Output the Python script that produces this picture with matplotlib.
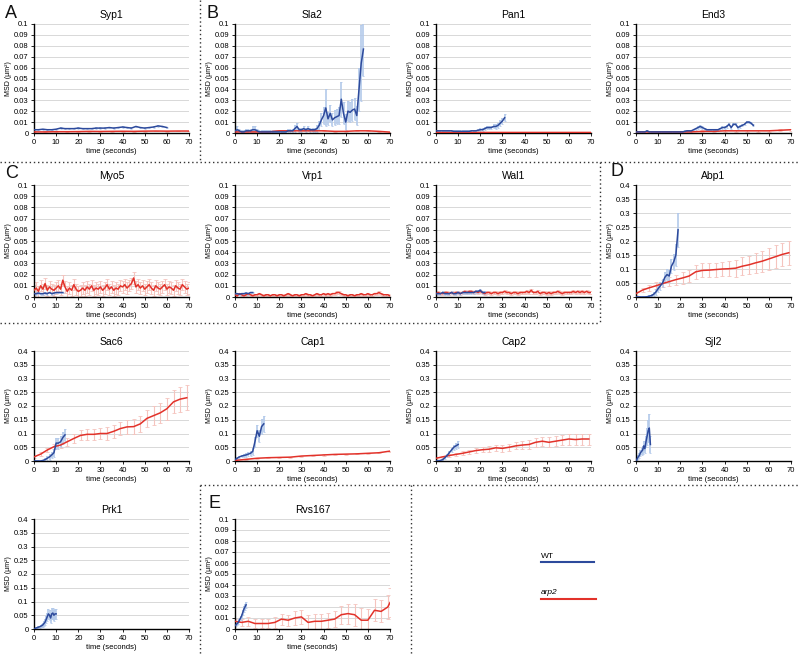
import numpy as np
import matplotlib
matplotlib.use("Agg")
import matplotlib.pyplot as plt
from matplotlib.lines import Line2D
from matplotlib.ticker import FormatStrFormatter

plt.rcParams['font.family'] = ['Liberation Sans', 'DejaVu Sans']

BLUE = "#2d4a9c"
RED = "#e2322a"
LBLUE = "#b3c9ea"
LRED = "#f5c4be"

# ---- data (MSD in um^2, time in seconds) ----
syp1_wt_t = np.arange(0, 61, 2)
syp1_wt_y = [0.003, 0.003, 0.0035, 0.003, 0.003, 0.0035, 0.0045, 0.004, 0.004, 0.004, 0.0045,
             0.004, 0.004, 0.004, 0.0045, 0.0045, 0.0045, 0.005, 0.0045, 0.005, 0.0055, 0.005,
             0.0045, 0.006, 0.005, 0.0045, 0.005, 0.0055, 0.0065, 0.006, 0.005]
syp1_wt_e = 0.0006
syp1_mut_t = np.arange(0, 71, 5)
syp1_mut_y = [0.001, 0.001, 0.0012, 0.0012, 0.0013, 0.0015, 0.0014, 0.0015, 0.0016, 0.0015,
              0.0017, 0.0018, 0.0017, 0.0018, 0.0018]
syp1_mut_e = 0.0004

sla2_wt_y = [0.002, 0.003, 0.002, 0.001, 0.001, 0.002, 0.002, 0.002, 0.003, 0.003,
             0.002, 0.001, 0.001, 0.001, 0.001, 0.001, 0.001, 0.001, 0.001, 0.001,
             0.001, 0.001, 0.001, 0.001, 0.002, 0.002, 0.002, 0.004, 0.006, 0.003,
             0.003, 0.004, 0.003, 0.004, 0.003, 0.003, 0.003, 0.004, 0.007, 0.012,
             0.016, 0.023, 0.013, 0.018, 0.012, 0.014, 0.015, 0.016, 0.031, 0.018,
             0.010, 0.020, 0.019, 0.021, 0.022, 0.016, 0.040, 0.064, 0.077]
sla2_wt_e = [0.003, 0.003, 0.0015, 0.0015, 0.0015, 0.0015, 0.0015, 0.002, 0.003, 0.003,
             0.0015, 0.0015, 0.0015, 0.0015, 0.0015, 0.0015, 0.0015, 0.0015, 0.0015, 0.0015,
             0.0015, 0.0015, 0.0015, 0.0015, 0.0015, 0.0015, 0.002, 0.003, 0.003, 0.002,
             0.002, 0.002, 0.002, 0.002, 0.002, 0.002, 0.002, 0.003, 0.004, 0.006,
             0.008, 0.017, 0.006, 0.008, 0.006, 0.007, 0.007, 0.008, 0.016, 0.010,
             0.007, 0.009, 0.009, 0.010, 0.010, 0.009, 0.020, 0.035, 0.025]
sla2_mut_t = np.arange(0, 71, 5)
sla2_mut_y = [0.001, 0.001, 0.001, 0.001, 0.002, 0.002, 0.002, 0.002, 0.002, 0.0015,
              0.0015, 0.002, 0.002, 0.0015, 0.0008]
sla2_mut_e = 0.0005

pan1_wt_y = [0.002, 0.002, 0.002, 0.002, 0.002, 0.002, 0.002, 0.002, 0.0015, 0.0015,
             0.0015, 0.0015, 0.0015, 0.0015, 0.0015, 0.0015, 0.002, 0.002, 0.002, 0.0025,
             0.003, 0.003, 0.004, 0.005, 0.005, 0.005, 0.006, 0.006, 0.007, 0.009,
             0.011, 0.014]
pan1_wt_e = [0.001] * 20 + [0.0012, 0.0012, 0.0015, 0.0015, 0.0015, 0.0017, 0.0018, 0.002,
                            0.002, 0.0025, 0.003, 0.003]
pan1_mut_t = np.arange(0, 71, 5)
pan1_mut_y = [0.0006, 0.0005, 0.0005, 0.0005, 0.0005, 0.0005, 0.0005, 0.0005, 0.0005,
              0.0005, 0.0005, 0.0005, 0.0005, 0.0005, 0.0005]
pan1_mut_e = 0.0003

end3_wt_y = [0.001, 0.001, 0.001, 0.001, 0.001, 0.002, 0.001, 0.001, 0.001, 0.001,
             0.001, 0.001, 0.001, 0.001, 0.001, 0.001, 0.001, 0.001, 0.001, 0.001,
             0.001, 0.001, 0.0015, 0.002, 0.002, 0.002, 0.003, 0.004, 0.005, 0.006,
             0.005, 0.004, 0.003, 0.003, 0.003, 0.003, 0.003, 0.003, 0.004, 0.005,
             0.005, 0.006, 0.008, 0.005, 0.008, 0.008, 0.005, 0.006, 0.007, 0.008,
             0.010, 0.010, 0.009, 0.007]
end3_wt_e = 0.001
end3_mut_t = np.arange(0, 71, 5)
end3_mut_y = [0.001, 0.001, 0.001, 0.001, 0.001, 0.001, 0.0015, 0.0015, 0.002, 0.002,
              0.002, 0.002, 0.002, 0.0025, 0.003]
end3_mut_e = 0.0008

myo5_wt_y = [0.003, 0.003, 0.0035, 0.003, 0.003, 0.0035, 0.003, 0.004, 0.003, 0.0035,
             0.004, 0.004, 0.004, 0.004]
myo5_wt_e = 0.0008
myo5_mut_y = [0.006, 0.008, 0.005, 0.010, 0.007, 0.012, 0.006, 0.009, 0.007, 0.006,
              0.008, 0.010, 0.007, 0.015, 0.009, 0.005, 0.008, 0.006, 0.011, 0.007,
              0.005, 0.006, 0.008, 0.006, 0.009, 0.007, 0.010, 0.006, 0.008, 0.007,
              0.009, 0.006, 0.008, 0.011, 0.007, 0.009, 0.006, 0.008, 0.007, 0.010,
              0.009, 0.011, 0.008, 0.010, 0.012, 0.017, 0.009, 0.011, 0.008, 0.010,
              0.007, 0.009, 0.011, 0.008, 0.006, 0.010, 0.008, 0.007, 0.009, 0.011,
              0.007, 0.009, 0.008, 0.006, 0.010, 0.008, 0.007, 0.011, 0.009, 0.007,
              0.008]
myo5_mut_e = 0.005

vrp1_wt_y = [0.003, 0.003, 0.0025, 0.003, 0.003, 0.0035, 0.003, 0.004, 0.004]
vrp1_wt_e = 0.0008
vrp1_mut_y = [0.002, 0.001, 0.003, 0.002, 0.001, 0.002, 0.003, 0.002, 0.001, 0.002,
              0.002, 0.003, 0.002, 0.001, 0.002, 0.002, 0.001, 0.002, 0.002, 0.001,
              0.002, 0.002, 0.001, 0.002, 0.003, 0.002, 0.001, 0.002, 0.002, 0.001,
              0.002, 0.002, 0.003, 0.002, 0.002, 0.001, 0.002, 0.003, 0.002, 0.002,
              0.003, 0.002, 0.003, 0.002, 0.003, 0.003, 0.004, 0.004, 0.003, 0.002,
              0.002, 0.001, 0.002, 0.002, 0.001, 0.002, 0.002, 0.003, 0.002, 0.002,
              0.003, 0.002, 0.002, 0.003, 0.003, 0.004, 0.003, 0.002, 0.002, 0.002,
              0.001]
vrp1_mut_e = 0.001

wal1_wt_y = [0.003, 0.003, 0.003, 0.004, 0.003, 0.003, 0.003, 0.004, 0.003, 0.003,
             0.004, 0.003, 0.004, 0.004, 0.004, 0.004, 0.004, 0.004, 0.005, 0.005,
             0.006, 0.004, 0.004]
wal1_wt_e = 0.001
wal1_mut_y = [0.003, 0.004, 0.003, 0.003, 0.004, 0.004, 0.003, 0.004, 0.003, 0.004,
              0.004, 0.003, 0.004, 0.005, 0.004, 0.005, 0.005, 0.004, 0.005, 0.004,
              0.005, 0.004, 0.003, 0.004, 0.004, 0.003, 0.004, 0.004, 0.003, 0.004,
              0.004, 0.005, 0.004, 0.004, 0.003, 0.004, 0.004, 0.003, 0.004, 0.004,
              0.004, 0.005, 0.004, 0.006, 0.004, 0.004, 0.005, 0.003, 0.004, 0.004,
              0.003, 0.004, 0.003, 0.004, 0.004, 0.005, 0.004, 0.003, 0.004, 0.004,
              0.004, 0.004, 0.005, 0.004, 0.005, 0.004, 0.005, 0.004, 0.005, 0.004,
              0.004]
wal1_mut_e = 0.0015

abp1_wt_y = [0, 0, 0, 0, 0, 0.001, 0.003, 0.005, 0.010, 0.018, 0.030, 0.040, 0.050,
             0.070, 0.080, 0.075, 0.110, 0.125, 0.150, 0.240]
abp1_wt_e = [0.002, 0.002, 0.002, 0.002, 0.003, 0.004, 0.005, 0.006, 0.008, 0.010,
             0.012, 0.014, 0.016, 0.020, 0.020, 0.022, 0.025, 0.030, 0.040, 0.060]
abp1_mut_t = np.arange(0, 70, 3)
abp1_mut_y = [0.012, 0.025, 0.033, 0.040, 0.048, 0.055, 0.062, 0.068, 0.075, 0.090,
              0.095, 0.096, 0.098, 0.100, 0.101, 0.103, 0.110, 0.115, 0.122, 0.128,
              0.136, 0.144, 0.152, 0.158]
abp1_mut_e = [0.005, 0.008, 0.010, 0.012, 0.014, 0.016, 0.018, 0.020, 0.022, 0.025,
              0.025, 0.025, 0.025, 0.025, 0.027, 0.030, 0.032, 0.033, 0.035, 0.037,
              0.038, 0.040, 0.040, 0.042]

sac6_wt_y = [0, 0, 0, 0, 0.002, 0.005, 0.010, 0.015, 0.022, 0.030, 0.065, 0.065, 0.070,
             0.085, 0.095]
sac6_wt_e = [0.002, 0.002, 0.002, 0.002, 0.003, 0.005, 0.008, 0.010, 0.012, 0.015,
             0.020, 0.020, 0.020, 0.022, 0.022]
sac6_mut_t = np.arange(0, 70, 3)
sac6_mut_y = [0.015, 0.025, 0.040, 0.052, 0.058, 0.070, 0.082, 0.093, 0.097, 0.097,
              0.100, 0.100, 0.108, 0.118, 0.124, 0.125, 0.135, 0.155, 0.165, 0.175,
              0.190, 0.215, 0.225, 0.230]
sac6_mut_e = [0.004, 0.006, 0.008, 0.010, 0.012, 0.014, 0.016, 0.018, 0.020, 0.020,
              0.020, 0.022, 0.023, 0.025, 0.025, 0.027, 0.030, 0.032, 0.034, 0.036,
              0.040, 0.042, 0.045, 0.045]

cap1_wt_y = [0.005, 0.010, 0.015, 0.018, 0.020, 0.022, 0.025, 0.028, 0.035, 0.070,
             0.110, 0.090, 0.125, 0.135]
cap1_wt_e = [0.003, 0.004, 0.005, 0.005, 0.006, 0.007, 0.008, 0.010, 0.012, 0.018,
             0.022, 0.022, 0.028, 0.030]
cap1_mut_t = np.arange(0, 71, 5)
cap1_mut_y = [0.002, 0.006, 0.010, 0.012, 0.013, 0.014, 0.018, 0.020, 0.022, 0.024,
              0.025, 0.026, 0.028, 0.030, 0.036]
cap1_mut_e = 0.002

cap2_wt_y = [0, 0, 0.002, 0.005, 0.012, 0.020, 0.030, 0.040, 0.050, 0.055, 0.060]
cap2_wt_e = [0.002, 0.002, 0.003, 0.004, 0.005, 0.006, 0.008, 0.009, 0.010, 0.011, 0.012]
cap2_mut_t = np.arange(0, 70, 3)
cap2_mut_y = [0.010, 0.015, 0.020, 0.024, 0.028, 0.033, 0.038, 0.041, 0.043, 0.048,
              0.046, 0.050, 0.055, 0.058, 0.060, 0.068, 0.072, 0.068, 0.072, 0.076,
              0.080, 0.078, 0.080, 0.080]
cap2_mut_e = [0.003, 0.004, 0.005, 0.006, 0.007, 0.008, 0.009, 0.010, 0.010, 0.011,
              0.012, 0.012, 0.013, 0.014, 0.015, 0.016, 0.017, 0.018, 0.018, 0.019,
              0.020, 0.020, 0.020, 0.020]

sjl2_wt_t = np.arange(0, 7, 0.5)
sjl2_wt_y = [0, 0.008, 0.015, 0.020, 0.030, 0.035, 0.040, 0.055, 0.045, 0.070, 0.090,
             0.110, 0.120, 0.060]
sjl2_wt_e = [0.003, 0.005, 0.006, 0.008, 0.010, 0.012, 0.014, 0.016, 0.016, 0.020,
             0.030, 0.040, 0.050, 0.030]

prk1_wt_t = np.arange(0, 10.5, 0.5)
prk1_wt_y = [0, 0.002, 0.004, 0.005, 0.007, 0.008, 0.010, 0.012, 0.015, 0.020, 0.025,
             0.035, 0.045, 0.055, 0.050, 0.040, 0.055, 0.058, 0.050, 0.055, 0.055]
prk1_wt_e = [0.002, 0.002, 0.002, 0.003, 0.003, 0.004, 0.004, 0.005, 0.006, 0.008, 0.010,
             0.012, 0.015, 0.018, 0.018, 0.018, 0.020, 0.020, 0.020, 0.018, 0.018]

rvs167_wt_t = np.arange(0, 5.5, 0.5)
rvs167_wt_y = [0.003, 0.004, 0.005, 0.006, 0.008, 0.010, 0.012, 0.015, 0.018, 0.020, 0.022]
rvs167_wt_e = [0.001, 0.001, 0.0015, 0.0015, 0.0015, 0.002, 0.002, 0.002, 0.0025, 0.003, 0.003]
rvs167_mut_t = [0, 3, 6, 9, 12, 15, 18, 21, 24, 27, 30, 33, 36, 39, 42, 45, 48, 51, 54,
                57, 60, 63, 66, 69, 70]
rvs167_mut_y = [0.007, 0.006, 0.007, 0.005, 0.005, 0.005, 0.006, 0.009, 0.008, 0.010,
                0.011, 0.006, 0.007, 0.007, 0.008, 0.009, 0.013, 0.014, 0.013, 0.008,
                0.008, 0.017, 0.016, 0.020, 0.024]
rvs167_mut_e = [0.002, 0.003, 0.004, 0.004, 0.004, 0.004, 0.005, 0.005, 0.005, 0.006,
                0.006, 0.007, 0.007, 0.007, 0.007, 0.007, 0.008, 0.009, 0.010, 0.011,
                0.010, 0.010, 0.010, 0.011, 0.013]

# ---- layout helpers ----
W, H = 800, 656
fig = plt.figure(figsize=(W / 100, H / 100), dpi=100)

col_x = [34, 235, 436, 636]
row_y = [(24, 133), (185, 297), (351, 461), (519, 629)]
AX_W = 155


def make_ax(row, col):
    top, bot = row_y[row]
    return fig.add_axes([col_x[col] / W, 1 - bot / H, AX_W / W, (bot - top) / H])


def draw_panel(ax, title, ymax, series):
    for t, y, e, kind in series:
        t = np.arange(len(y)) if t is None else np.asarray(t)
        y = np.asarray(y)
        if kind == "wt":
            ax.errorbar(t, y, yerr=e, fmt="none", ecolor=LBLUE, elinewidth=1.2,
                        capsize=1, capthick=0.6, zorder=2)
            ax.plot(t, y, color=BLUE, lw=1.1, zorder=4)
        else:
            ax.errorbar(t, y, yerr=e, fmt="none", ecolor=LRED, elinewidth=0.8,
                        capsize=1.5, capthick=0.6, zorder=1)
            ax.plot(t, y, color=RED, lw=1.1, zorder=3)
    ax.set_xlim(0, 70)
    ax.set_ylim(0, ymax)
    ax.set_xticks(range(0, 71, 10))
    step = 0.01 if ymax <= 0.1 else 0.05
    ax.set_yticks(np.arange(0, ymax + step / 2, step))
    ax.yaxis.set_major_formatter(FormatStrFormatter("%g"))
    ax.grid(axis="y", color="#d8d8d8", lw=0.7)
    ax.set_axisbelow(True)
    for s in ("top", "right"):
        ax.spines[s].set_visible(False)
    ax.spines["left"].set_linewidth(1.0)
    ax.spines["bottom"].set_linewidth(1.0)
    ax.tick_params(labelsize=5.5, length=2, width=0.6, pad=2)
    ax.set_title(title, fontsize=7.5, pad=4)
    ax.set_xlabel("time (seconds)", fontsize=5.5, labelpad=1.5)
    ax.set_ylabel("MSD (\u00b5m\u00b2)", fontsize=5, labelpad=1.5)


draw_panel(make_ax(0, 0), "Syp1", 0.1,
           [(syp1_mut_t, syp1_mut_y, syp1_mut_e, "mut"), (syp1_wt_t, syp1_wt_y, syp1_wt_e, "wt")])
draw_panel(make_ax(0, 1), "Sla2", 0.1,
           [(sla2_mut_t, sla2_mut_y, sla2_mut_e, "mut"), (None, sla2_wt_y, sla2_wt_e, "wt")])
draw_panel(make_ax(0, 2), "Pan1", 0.1,
           [(pan1_mut_t, pan1_mut_y, pan1_mut_e, "mut"), (None, pan1_wt_y, pan1_wt_e, "wt")])
draw_panel(make_ax(0, 3), "End3", 0.1,
           [(end3_mut_t, end3_mut_y, end3_mut_e, "mut"), (None, end3_wt_y, end3_wt_e, "wt")])

draw_panel(make_ax(1, 0), "Myo5", 0.1,
           [(None, myo5_wt_y, myo5_wt_e, "wt"), (None, myo5_mut_y, myo5_mut_e, "mut")])
draw_panel(make_ax(1, 1), "Vrp1", 0.1,
           [(None, vrp1_wt_y, vrp1_wt_e, "wt"), (None, vrp1_mut_y, vrp1_mut_e, "mut")])
draw_panel(make_ax(1, 2), "Wal1", 0.1,
           [(None, wal1_wt_y, wal1_wt_e, "wt"), (None, wal1_mut_y, wal1_mut_e, "mut")])
draw_panel(make_ax(1, 3), "Abp1", 0.4,
           [(abp1_mut_t, abp1_mut_y, abp1_mut_e, "mut"), (None, abp1_wt_y, abp1_wt_e, "wt")])

draw_panel(make_ax(2, 0), "Sac6", 0.4,
           [(sac6_mut_t, sac6_mut_y, sac6_mut_e, "mut"), (None, sac6_wt_y, sac6_wt_e, "wt")])
draw_panel(make_ax(2, 1), "Cap1", 0.4,
           [(cap1_mut_t, cap1_mut_y, cap1_mut_e, "mut"), (None, cap1_wt_y, cap1_wt_e, "wt")])
draw_panel(make_ax(2, 2), "Cap2", 0.4,
           [(cap2_mut_t, cap2_mut_y, cap2_mut_e, "mut"), (None, cap2_wt_y, cap2_wt_e, "wt")])
draw_panel(make_ax(2, 3), "Sjl2", 0.4,
           [(sjl2_wt_t, sjl2_wt_y, sjl2_wt_e, "wt")])

draw_panel(make_ax(3, 0), "Prk1", 0.4,
           [(prk1_wt_t, prk1_wt_y, prk1_wt_e, "wt")])
draw_panel(make_ax(3, 1), "Rvs167", 0.1,
           [(rvs167_mut_t, rvs167_mut_y, rvs167_mut_e, "mut"),
            (rvs167_wt_t, rvs167_wt_y, rvs167_wt_e, "wt")])


# dotted separators (pixel coords)
def sep(x0, y0, x1, y1):
    fig.add_artist(Line2D([x0 / W, x1 / W], [1 - y0 / H, 1 - y1 / H],
                          ls=(0, (1, 2)), color="#333333", lw=1.0))


sep(0, 162, 800, 162)
sep(200, 0, 200, 162)
sep(0, 323, 600, 323)
sep(600, 162, 600, 323)
sep(200, 485, 800, 485)
sep(200, 485, 200, 656)
sep(411, 485, 411, 656)

# panel letters
for letter, px, py in [("A", 5, 5), ("B", 207, 5), ("C", 5, 165), ("D", 611, 163), ("E", 209, 495)]:
    fig.text(px / W, 1 - py / H, letter, fontsize=13, va="top", ha="left", color="#111111")

# legend
fig.text(541 / W, 1 - 556 / H, "WT", fontsize=6, va="center")
fig.add_artist(Line2D([541 / W, 594 / W], [1 - 562 / H, 1 - 562 / H], color=BLUE, lw=1.5))
fig.text(541 / W, 1 - 592 / H, "arp2", fontsize=6, va="center", style="italic")
fig.add_artist(Line2D([541 / W, 596 / W], [1 - 599 / H, 1 - 599 / H], color=RED, lw=1.5))

plt.savefig("out.png", dpi=100)
